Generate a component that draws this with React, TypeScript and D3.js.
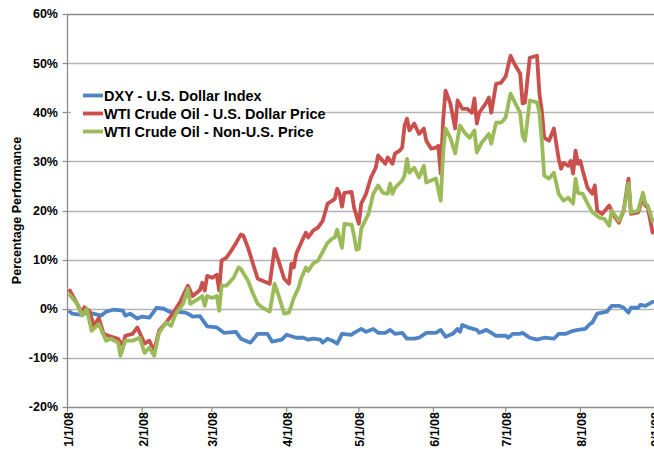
import React from "react";
import * as d3 from "d3";

type Pt = [string, number];

const xTickDates: string[] = [
  "2008-01-01", "2008-02-01", "2008-03-01", "2008-04-01", "2008-05-01",
  "2008-06-01", "2008-07-01", "2008-08-01", "2008-09-01",
];
const yTicks: number[] = [-20, -10, 0, 10, 20, 30, 40, 50, 60];

const seriesNames: string[] = [
  "DXY - U.S. Dollar Index",
  "WTI Crude Oil - U.S. Dollar Price",
  "WTI Crude Oil - Non-U.S. Price",
];

const dxy: Pt[] = [
  ["2008-01-02", -0.6], ["2008-01-03", -1.0], ["2008-01-06", -1.2], ["2008-01-10", -0.8],
  ["2008-01-15", -1.4], ["2008-01-17", -0.6], ["2008-01-20", -0.2], ["2008-01-24", -0.4],
  ["2008-01-25", -1.4], ["2008-01-27", -1.0], ["2008-01-30", -2.0], ["2008-02-01", -1.6],
  ["2008-02-04", -1.8], ["2008-02-07", 0.2], ["2008-02-10", 0.0], ["2008-02-13", -0.8],
  ["2008-02-15", -0.6], ["2008-02-19", -0.8], ["2008-02-20", -1.0], ["2008-02-22", -1.6],
  ["2008-02-25", -1.5], ["2008-02-28", -3.6], ["2008-03-03", -3.8], ["2008-03-06", -4.9],
  ["2008-03-11", -4.7], ["2008-03-13", -6.1], ["2008-03-17", -6.9], ["2008-03-20", -5.1],
  ["2008-03-24", -5.1], ["2008-03-26", -6.7], ["2008-03-30", -6.3], ["2008-04-01", -5.3],
  ["2008-04-05", -5.9], ["2008-04-08", -5.9], ["2008-04-10", -6.3], ["2008-04-12", -6.1],
  ["2008-04-15", -6.3], ["2008-04-16", -6.9], ["2008-04-18", -6.1], ["2008-04-20", -6.5],
  ["2008-04-22", -7.1], ["2008-04-24", -5.1], ["2008-04-28", -5.3], ["2008-04-29", -4.9],
  ["2008-05-02", -4.1], ["2008-05-04", -4.7], ["2008-05-07", -4.1], ["2008-05-09", -4.9],
  ["2008-05-12", -4.9], ["2008-05-14", -4.3], ["2008-05-16", -5.1], ["2008-05-19", -4.9],
  ["2008-05-21", -6.1], ["2008-05-24", -6.1], ["2008-05-26", -5.9], ["2008-05-29", -4.9],
  ["2008-06-02", -4.9], ["2008-06-04", -4.3], ["2008-06-06", -5.7], ["2008-06-09", -5.1],
  ["2008-06-11", -4.1], ["2008-06-12", -4.7], ["2008-06-13", -3.3], ["2008-06-16", -3.9],
  ["2008-06-19", -4.3], ["2008-06-20", -4.9], ["2008-06-23", -4.3], ["2008-06-27", -5.5],
  ["2008-07-01", -5.5], ["2008-07-02", -5.9], ["2008-07-04", -5.1], ["2008-07-07", -5.1],
  ["2008-07-08", -4.9], ["2008-07-11", -5.9], ["2008-07-14", -6.3], ["2008-07-17", -5.9],
  ["2008-07-21", -6.1], ["2008-07-23", -5.1], ["2008-07-26", -5.1], ["2008-07-29", -4.5],
  ["2008-07-31", -4.3], ["2008-08-03", -4.1], ["2008-08-05", -3.1], ["2008-08-06", -2.8],
  ["2008-08-08", -1.0], ["2008-08-10", -0.8], ["2008-08-12", -0.6], ["2008-08-14", 0.6],
  ["2008-08-17", 0.6], ["2008-08-19", 0.2], ["2008-08-21", -0.8], ["2008-08-22", 0.2],
  ["2008-08-25", 0.2], ["2008-08-26", 0.8], ["2008-08-28", 0.6], ["2008-08-31", 1.4],
];

const wtiUsd: Pt[] = [
  ["2008-01-02", 3.7], ["2008-01-05", 1.0], ["2008-01-07", -1.0], ["2008-01-08", 0.3],
  ["2008-01-10", -0.4], ["2008-01-12", -3.5], ["2008-01-14", -1.9], ["2008-01-16", -5.1],
  ["2008-01-18", -5.5], ["2008-01-22", -6.1], ["2008-01-24", -7.5], ["2008-01-25", -5.5],
  ["2008-01-28", -5.1], ["2008-01-30", -3.8], ["2008-02-02", -7.1], ["2008-02-04", -6.5],
  ["2008-02-06", -8.6], ["2008-02-08", -4.5], ["2008-02-11", -2.8], ["2008-02-14", -0.8],
  ["2008-02-17", 1.6], ["2008-02-20", 4.7], ["2008-02-22", 2.6], ["2008-02-25", 3.8],
  ["2008-02-26", 5.3], ["2008-02-27", 3.7], ["2008-02-28", 6.7], ["2008-03-01", 6.3],
  ["2008-03-03", 6.9], ["2008-03-04", 3.7], ["2008-03-05", 9.8], ["2008-03-07", 10.4],
  ["2008-03-09", 11.8], ["2008-03-11", 13.4], ["2008-03-13", 15.1], ["2008-03-14", 14.9],
  ["2008-03-16", 12.4], ["2008-03-18", 9.2], ["2008-03-20", 6.1], ["2008-03-22", 5.7],
  ["2008-03-25", 5.1], ["2008-03-27", 12.2], ["2008-03-29", 9.2], ["2008-03-31", 6.1],
  ["2008-04-02", 5.1], ["2008-04-03", 9.2], ["2008-04-04", 8.4], ["2008-04-05", 11.2],
  ["2008-04-07", 13.4], ["2008-04-09", 15.5], ["2008-04-10", 14.5], ["2008-04-12", 15.9],
  ["2008-04-14", 16.5], ["2008-04-16", 17.9], ["2008-04-17", 19.6], ["2008-04-18", 21.4],
  ["2008-04-20", 22.0], ["2008-04-21", 22.4], ["2008-04-22", 24.4], ["2008-04-23", 23.4],
  ["2008-04-24", 20.8], ["2008-04-25", 23.6], ["2008-04-28", 23.8], ["2008-04-29", 20.6],
  ["2008-05-01", 17.3], ["2008-05-02", 21.4], ["2008-05-04", 23.4], ["2008-05-06", 26.7],
  ["2008-05-08", 28.7], ["2008-05-09", 31.2], ["2008-05-11", 30.1], ["2008-05-12", 29.5],
  ["2008-05-13", 30.8], ["2008-05-15", 29.5], ["2008-05-16", 31.6], ["2008-05-18", 32.2],
  ["2008-05-19", 32.8], ["2008-05-20", 37.3], ["2008-05-21", 38.7], ["2008-05-22", 36.3],
  ["2008-05-24", 37.7], ["2008-05-26", 35.6], ["2008-05-28", 36.7], ["2008-05-29", 34.2],
  ["2008-05-31", 32.6], ["2008-06-02", 32.8], ["2008-06-03", 33.2], ["2008-06-04", 27.5],
  ["2008-06-05", 38.3], ["2008-06-06", 44.4], ["2008-06-08", 41.8], ["2008-06-10", 36.7],
  ["2008-06-11", 42.4], ["2008-06-13", 40.7], ["2008-06-15", 40.7], ["2008-06-17", 39.9],
  ["2008-06-18", 42.8], ["2008-06-19", 37.7], ["2008-06-20", 39.9], ["2008-06-23", 42.0],
  ["2008-06-24", 43.0], ["2008-06-25", 39.9], ["2008-06-27", 45.8], ["2008-06-29", 46.0],
  ["2008-07-01", 47.3], ["2008-07-03", 51.5], ["2008-07-05", 49.5], ["2008-07-07", 47.9],
  ["2008-07-08", 41.8], ["2008-07-09", 42.0], ["2008-07-11", 51.1], ["2008-07-14", 51.5],
  ["2008-07-15", 43.8], ["2008-07-16", 40.3], ["2008-07-17", 34.8], ["2008-07-19", 34.2],
  ["2008-07-21", 36.7], ["2008-07-23", 30.5], ["2008-07-24", 28.5], ["2008-07-25", 29.7],
  ["2008-07-27", 29.1], ["2008-07-28", 30.1], ["2008-07-29", 27.5], ["2008-07-30", 32.2],
  ["2008-07-31", 29.5], ["2008-08-01", 30.1], ["2008-08-02", 28.1], ["2008-08-04", 24.6],
  ["2008-08-06", 23.4], ["2008-08-07", 25.1], ["2008-08-08", 20.0], ["2008-08-10", 19.3],
  ["2008-08-13", 21.0], ["2008-08-15", 18.9], ["2008-08-17", 17.5], ["2008-08-19", 20.0],
  ["2008-08-21", 26.5], ["2008-08-22", 19.3], ["2008-08-25", 19.6], ["2008-08-27", 22.6],
  ["2008-08-28", 21.0], ["2008-08-29", 20.6], ["2008-08-31", 15.5],
];

const wtiNonUs: Pt[] = [
  ["2008-01-02", 2.8], ["2008-01-05", 1.0], ["2008-01-07", -1.4], ["2008-01-09", 0.0],
  ["2008-01-11", -4.5], ["2008-01-14", -3.1], ["2008-01-17", -6.5], ["2008-01-19", -6.1],
  ["2008-01-22", -6.9], ["2008-01-23", -9.6], ["2008-01-25", -6.5], ["2008-01-28", -6.5],
  ["2008-01-31", -5.9], ["2008-02-02", -9.0], ["2008-02-04", -7.9], ["2008-02-06", -9.6],
  ["2008-02-08", -4.9], ["2008-02-11", -2.8], ["2008-02-13", -3.5], ["2008-02-15", -1.0],
  ["2008-02-18", 1.0], ["2008-02-20", 4.1], ["2008-02-21", 1.0], ["2008-02-25", 2.2],
  ["2008-02-26", 2.6], ["2008-02-27", 0.6], ["2008-02-28", 2.6], ["2008-03-01", 2.2],
  ["2008-03-03", 2.6], ["2008-03-04", -0.4], ["2008-03-05", 4.7], ["2008-03-07", 4.7],
  ["2008-03-10", 6.3], ["2008-03-12", 8.4], ["2008-03-13", 8.1], ["2008-03-16", 5.7],
  ["2008-03-18", 3.1], ["2008-03-20", 1.0], ["2008-03-22", 0.2], ["2008-03-25", -0.6],
  ["2008-03-27", 5.1], ["2008-03-29", 2.2], ["2008-03-31", -1.0], ["2008-04-02", -0.8],
  ["2008-04-04", 2.2], ["2008-04-06", 4.3], ["2008-04-07", 6.1], ["2008-04-09", 8.4],
  ["2008-04-10", 7.7], ["2008-04-12", 9.2], ["2008-04-14", 9.8], ["2008-04-16", 11.6],
  ["2008-04-18", 13.4], ["2008-04-20", 14.3], ["2008-04-21", 14.5], ["2008-04-22", 16.1],
  ["2008-04-24", 12.4], ["2008-04-25", 17.3], ["2008-04-28", 17.1], ["2008-04-29", 14.9],
  ["2008-04-30", 12.0], ["2008-05-01", 12.2], ["2008-05-02", 16.3], ["2008-05-05", 19.3],
  ["2008-05-07", 23.4], ["2008-05-09", 25.1], ["2008-05-11", 23.6], ["2008-05-13", 23.4],
  ["2008-05-14", 25.5], ["2008-05-15", 23.4], ["2008-05-16", 24.6], ["2008-05-19", 26.1],
  ["2008-05-20", 27.1], ["2008-05-21", 30.5], ["2008-05-22", 27.7], ["2008-05-24", 28.7],
  ["2008-05-26", 26.7], ["2008-05-28", 29.1], ["2008-05-29", 25.7], ["2008-05-31", 26.1],
  ["2008-06-02", 26.5], ["2008-06-04", 22.0], ["2008-06-05", 31.6], ["2008-06-06", 36.7],
  ["2008-06-08", 34.8], ["2008-06-10", 31.6], ["2008-06-12", 37.3], ["2008-06-14", 35.8],
  ["2008-06-16", 34.8], ["2008-06-18", 36.3], ["2008-06-19", 31.8], ["2008-06-21", 33.8],
  ["2008-06-24", 35.6], ["2008-06-25", 33.6], ["2008-06-27", 37.9], ["2008-06-29", 37.9],
  ["2008-06-30", 38.3], ["2008-07-01", 39.0], ["2008-07-03", 43.8], ["2008-07-05", 41.8],
  ["2008-07-07", 39.9], ["2008-07-08", 35.2], ["2008-07-09", 34.2], ["2008-07-11", 42.4],
  ["2008-07-14", 42.0], ["2008-07-15", 39.9], ["2008-07-16", 34.2], ["2008-07-17", 27.1],
  ["2008-07-19", 26.5], ["2008-07-21", 27.7], ["2008-07-23", 23.4], ["2008-07-25", 22.0],
  ["2008-07-27", 22.6], ["2008-07-29", 21.4], ["2008-07-30", 26.5], ["2008-07-31", 23.6],
  ["2008-08-02", 23.4], ["2008-08-04", 21.4], ["2008-08-06", 19.6], ["2008-08-07", 19.3],
  ["2008-08-09", 18.5], ["2008-08-11", 18.3], ["2008-08-13", 16.9], ["2008-08-14", 20.0],
  ["2008-08-17", 17.9], ["2008-08-19", 20.0], ["2008-08-21", 25.5], ["2008-08-22", 19.6],
  ["2008-08-25", 20.0], ["2008-08-27", 23.6], ["2008-08-28", 21.4], ["2008-08-29", 21.0],
  ["2008-08-31", 17.9],
];

const seriesData: Pt[][] = [dxy, wtiUsd, wtiNonUs];
const seriesColors: string[] = ["#4f84c4", "#c9504c", "#9bbb59"];

const W = 654;
const H = 449;
const FONT = "Arial, 'Liberation Sans', Helvetica, sans-serif";

const parse = d3.timeParse("%Y-%m-%d");
const fmt = d3.timeFormat("%-m/%-d/%y");

export default function App() {
  const x = d3
    .scaleTime()
    .domain([parse("2008-01-01") as Date, parse("2008-09-01") as Date])
    .range([67.5, 655]);
  const y = d3.scaleLinear().domain([-20, 60]).range([407, 14]);

  const line = d3
    .line<Pt>()
    .x((d) => x(parse(d[0]) as Date))
    .y((d) => y(d[1]));

  const left = 67.5;
  const right = 660;

  return (
    <svg
      width={W}
      height={H}
      style={{ position: "absolute", left: 0, top: 0, background: "#fff" }}
      fontFamily={FONT}
    >
      <rect x={0} y={0} width={W} height={H} fill="#fff" />
      {/* gridlines */}
      {yTicks.map((t) => (
        <line
          key={"g" + t}
          x1={left}
          x2={right}
          y1={Math.round(y(t)) + 0.5}
          y2={Math.round(y(t)) + 0.5}
          stroke={t === 60 || t === -20 ? "#8c8c8c" : "#b4b4b4"}
          strokeWidth={1.3}
        />
      ))}
      {/* y axis */}
      <line x1={left} x2={left} y1={y(60)} y2={y(-20) + 0.5} stroke="#8c8c8c" strokeWidth={1.3} />
      {yTicks.map((t) => (
        <g key={"yt" + t}>
          <line x1={left - 5} x2={left} y1={Math.round(y(t)) + 0.5} y2={Math.round(y(t)) + 0.5} stroke="#8c8c8c" strokeWidth={1.2} />
          <text
            x={58}
            y={y(t)}
            dy="0.35em"
            textAnchor="end"
            fontSize={12.5}
            fontWeight="bold"
            fill="#000"
          >
            {t + "%"}
          </text>
        </g>
      ))}
      {/* x ticks */}
      {xTickDates.map((s) => {
        const d = parse(s) as Date;
        const xx = x(d);
        return (
          <g key={"xt" + s}>
            <line x1={xx} x2={xx} y1={y(-20)} y2={y(-20) + 5} stroke="#8c8c8c" strokeWidth={1.2} />
            <text
              transform={`translate(${xx + 1},${y(-20) + 5}) rotate(-90)`}
              dy="0.35em"
              textAnchor="end"
              fontSize={12.5}
              fontWeight="bold"
              fill="#000"
            >
              {fmt(d)}
            </text>
          </g>
        );
      })}
      {/* y title */}
      <text
        transform={`translate(17,${(y(60) + y(-20)) / 2}) rotate(-90)`}
        textAnchor="middle"
        dy="0.35em"
        fontSize={12.5}
        fontWeight="bold"
        fill="#000"
      >
        Percentage Performance
      </text>
      {/* series */}
      {seriesData.map((s, i) => (
        <path
          key={"s" + i}
          d={line(s) || ""}
          fill="none"
          stroke={seriesColors[i]}
          strokeWidth={3.8}
          strokeLinejoin="round"
          strokeLinecap="round"
        />
      ))}
      {/* legend */}
      <rect x={71} y={78} width={254} height={70} fill="#fff" />
      {seriesNames.map((n, i) => (
        <g key={"l" + i} transform={`translate(83,${95.5 + i * 18})`}>
          <line x1={0} x2={20} y1={0} y2={0} stroke={seriesColors[i]} strokeWidth={3.8} />
          <text x={21} y={0} dy="0.36em" fontSize={14.5} fontWeight="bold" fill="#000">
            {n}
          </text>
        </g>
      ))}
    </svg>
  );
}
